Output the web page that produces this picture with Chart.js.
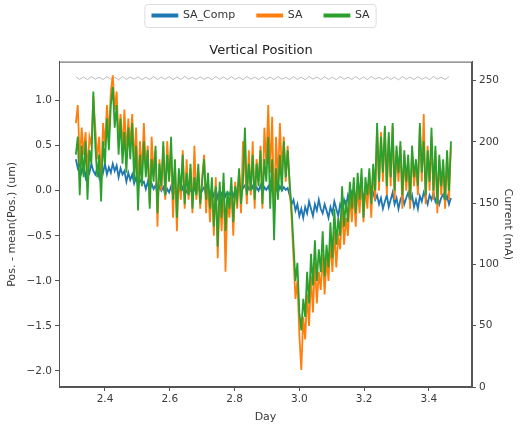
<!DOCTYPE html>
<html lang="en">
  <head>
    <meta charset="UTF-8" />
    <title>Vertical Position</title>
    <script src="https://cdn.jsdelivr.net/npm/chart.js"></script>
    <style>
      html, body { margin: 0; padding: 0; background: #fff; }
      #wrap { width: 522px; height: 424px; }
    </style>
  </head>
  <body>
    <div id="wrap"><canvas id="posChart" width="522" height="424"></canvas></div>
    <script>
      // sample times (Day), one reading every 0.006 day
      const days = Array.from({ length: 194 }, (_, i) => +(2.31 + i * 0.006).toFixed(3));
      const currentDays = Array.from({ length: 97 }, (_, i) => +(2.31 + i * 0.012).toFixed(3));

      const saComp = [
        0.35, 0.25, 0.3, 0.2, 0.28, 0.15, 0.25, 0.2, 0.3, 0.22,
        0.18, 0.25, 0.15, 0.28, 0.2, 0.3, 0.18, 0.26, 0.2, 0.3,
        0.22, 0.28, 0.15, 0.25, 0.18, 0.22, 0.1, 0.2, 0.12, 0.18,
        0.08, 0.15, 0.05, 0.12, 0.08, 0.1, 0.02, 0.1, 0.0, 0.08,
        0.02, 0.06, -0.04, 0.05, 0.0, 0.04, -0.05, 0.02, -0.02, 0.05,
        -0.05, 0.02, -0.06, 0.03, -0.02, 0.04, -0.05, 0.0, -0.03, 0.02,
        -0.04, 0.03, -0.02, 0.05, -0.03, 0.0, 0.04, -0.05, 0.02, -0.04,
        0.0, -0.06, 0.02, -0.08, 0.0, -0.05, 0.03, -0.06, -0.02, -0.04,
        0.0, -0.06, 0.02, -0.03, 0.04, -0.02, 0.03, 0.06, -0.02, 0.04,
        0.0, 0.05, -0.02, 0.04, 0.0, 0.06, -0.03, 0.04, 0.01, 0.05,
        -0.02, 0.04, -0.05, 0.03, -0.02, 0.05, 0.0, 0.04, 0.01, 0.03,
        -0.05, -0.15, -0.1, -0.22, -0.15, -0.28,
        -0.2, -0.3, -0.18, -0.25,
        -0.12, -0.2, -0.28, -0.15, -0.22, -0.1, -0.2, -0.25, -0.15, -0.22,
        -0.3, -0.18, -0.25, -0.12, -0.2, -0.28, -0.15, -0.2, -0.1, -0.18,
        -0.05, -0.12, -0.02, -0.1, -0.05, 0.0, -0.08, -0.02, -0.06, 0.0,
        -0.04, 0.02, -0.06, -0.02, -0.1, -0.05, -0.15, -0.08, -0.2, -0.12,
        -0.05, -0.18, -0.1, -0.02, -0.15, -0.08, -0.2, -0.1, -0.05, -0.15,
        -0.08, -0.02, -0.12, -0.05, -0.18, -0.1, -0.2, -0.06, -0.12, -0.02,
        -0.08, -0.15, -0.05, -0.1, -0.02, -0.12, -0.06, -0.15, -0.08, -0.04,
        -0.12, -0.06, -0.15, -0.08
      ];

      const saOrange = [
        0.75, 0.95, 0.3, 0.7, 0.4, 0.65, 0.2, 0.6, 0.5, 1.05,
        0.7, 0.35, 0.6, 0.1, 0.75, 0.5, 0.95, 0.6, 1.1, 1.28,
        0.9, 1.1, 0.55, 0.85, 0.45, 0.9, 0.4, 0.8, 0.5, 0.85,
        0.3, 0.7, 0.05, 0.55, 0.2, 0.75, 0.25, 0.5, -0.15, 0.6,
        0.2, 0.45, -0.4, 0.35, 0.0, 0.5, -0.1, 0.55, 0.15, 0.45,
        -0.3, 0.3, -0.45, 0.2, -0.1, 0.45, -0.2, 0.35, -0.1, 0.25,
        -0.25, 0.5, -0.1, 0.2, -0.2, 0.15, 0.4, -0.25, 0.1, -0.35,
        0.05, -0.5, 0.15, -0.75, 0.0, -0.45, 0.1, -0.9, -0.1, -0.3,
        0.05, -0.5, 0.1, -0.2, 0.2, -0.25, 0.55, 0.3, -0.15, 0.45,
        -0.05, 0.55, -0.2, 0.35, 0.1, 0.5, -0.2, 0.7, 0.3, 0.95,
        0.2, 0.82, -0.3, 0.6, 0.1, 0.75, 0.2, 0.6, 0.1, 0.5,
        0.05, -0.3, -0.75, -1.2, -1.0, -1.6,
        -1.99, -1.4, -1.65, -1.15,
        -1.5, -0.95, -1.35, -0.8, -1.25, -0.9, -1.1, -0.7, -1.15, -0.75,
        -1.0, -0.55, -0.9, -0.45, -0.85, -0.5, -0.65, -0.2, -0.6, -0.3,
        -0.5, -0.05, -0.35, 0.0, -0.4, 0.05, -0.25, 0.15, -0.35, 0.05,
        -0.2, 0.2, -0.3, 0.25, -0.1, 0.7, 0.0, 0.65, 0.1, 0.7,
        -0.05, 0.6, 0.05, 0.72, -0.1, 0.45, 0.1, 0.5, -0.2, 0.4,
        0.0, 0.35, -0.2, 0.45, 0.05, 0.3, -0.05, 0.7, 0.1, 0.85,
        -0.15, 0.5, 0.0, 0.6, -0.1, 0.45, -0.25, 0.35, -0.05, 0.3,
        -0.2, 0.4, -0.1, 0.5
      ];

      const saGreen = [
        0.4, 0.6, -0.05, 0.5, 0.15, 0.55, -0.1, 0.45, 0.3, 1.1,
        0.5, 0.15, 0.4, -0.12, 0.55, 0.3, 0.8, 0.45, 0.95, 1.15,
        0.7, 0.95, 0.4, 0.8, 0.3, 0.65, 0.2, 0.7, 0.35, 0.75,
        0.1, 0.5, -0.22, 0.4, 0.05, 0.55, 0.15, 0.45, -0.2, 0.35,
        0.1, 0.5, -0.25, 0.3, 0.05, 0.55, -0.05, 0.4, 0.1, 0.6,
        -0.1, 0.35, -0.3, 0.25, 0.0, 0.4, -0.15, 0.2, -0.05, 0.3,
        -0.2, 0.15, -0.05, 0.3, -0.15, 0.1, 0.35, -0.1, 0.2, -0.2,
        0.15, -0.4, 0.05, -0.62, 0.1, -0.3, 0.2, -0.45, 0.0, -0.2,
        0.15, -0.35, 0.05, -0.1, 0.25, -0.15, 0.1, 0.7, -0.05, 0.3,
        0.0, 0.4, -0.1, 0.3, 0.05, 0.45, -0.15, 0.35, 0.1, 0.6,
        -0.2, 0.35, -0.55, 0.25, -0.1, 0.4, 0.0, 0.55, 0.15, 0.45,
        0.1, -0.2, -0.6, -1.0, -0.8, -1.35,
        -1.55, -1.2, -1.4, -0.9,
        -1.25, -0.7, -1.05, -0.55, -1.0, -0.65, -0.9, -0.45, -0.95, -0.6,
        -0.85, -0.35, -0.75, -0.2, -0.6, -0.3, -0.5, 0.05, -0.4, -0.1,
        -0.35, 0.1, -0.2, 0.15, -0.25, 0.2, -0.1, 0.25, -0.3, 0.15,
        -0.05, 0.25, -0.15, 0.3, 0.0, 0.75, 0.1, 0.6, 0.2, 0.72,
        0.05, 0.65, 0.15, 0.75, 0.0, 0.5, 0.2, 0.55, -0.05, 0.45,
        0.1, 0.4, -0.1, 0.5, 0.15, 0.35, 0.05, 0.75, 0.2, 0.55,
        -0.05, 0.45, 0.1, 0.7, 0.0, 0.5, -0.15, 0.4, 0.05, 0.35,
        -0.1, 0.45, 0.0, 0.55
      ];

      // beam current (mA), top-up sawtooth
      const current = [
        253.1, 251.0, 252.9, 250.8, 253.3, 251.2, 252.7, 250.9, 253.2, 251.1,
        252.8, 250.7, 253.4, 251.0, 252.9, 251.2, 253.1, 250.8, 252.7, 251.0,
        253.3, 250.9, 252.8, 251.1, 253.2, 250.8, 252.9, 251.0, 253.4, 251.2,
        252.7, 250.9, 253.1, 251.0, 252.8, 250.7, 253.3, 251.1, 252.9, 250.9,
        253.2, 251.0, 252.7, 250.8, 253.4, 251.2, 252.8, 250.9, 253.1, 251.0,
        252.9, 250.8, 253.3, 251.1, 252.7, 250.9, 253.2, 251.0, 252.8, 250.7,
        253.4, 251.2, 252.9, 250.9, 253.1, 251.0, 252.7, 250.8, 253.3, 251.1,
        252.8, 250.9, 253.2, 251.0, 252.9, 250.8, 253.4, 251.2, 252.7, 250.9,
        253.1, 251.0, 252.8, 250.7, 253.3, 251.1, 252.9, 250.9, 253.2, 251.0,
        252.7, 250.8, 253.4, 251.2, 252.8, 250.9, 253.1
      ];

      const xy = (xs, ys) => xs.map((x, i) => ({ x: x, y: ys[i] }));
      const minus = (s) => s.replace('-', '\u2212');

      Chart.defaults.font.family = 'DejaVu Sans';
      Chart.defaults.font.size = 10.5;
      Chart.defaults.color = '#3a3a3a';

      // matplotlib-style box around the plot area
      const frame = {
        id: 'frame',
        afterDatasetsDraw(chart) {
          const a = chart.chartArea, c = chart.ctx;
          c.save();
          c.strokeStyle = '#555';
          c.lineWidth = 1;
          c.strokeRect(a.left + 0.5, a.top + 0.5, a.right - a.left - 1, a.bottom - a.top - 1);
          c.restore();
        }
      };

      // frame around the legend
      const legendBox = {
        id: 'legendBox',
        afterDraw(chart) {
          const boxes = chart.legend.legendHitBoxes;
          if (!boxes || !boxes.length) return;
          const l = Math.min(...boxes.map(b => b.left)) - 8;
          const r = Math.max(...boxes.map(b => b.left + b.width)) + 6;
          const t = Math.min(...boxes.map(b => b.top)) - 6;
          const btm = Math.max(...boxes.map(b => b.top + b.height)) + 6;
          const c = chart.ctx;
          c.save();
          c.strokeStyle = '#ddd';
          c.lineWidth = 1;
          c.beginPath();
          c.roundRect(l + 0.5, t + 0.5, r - l, btm - t, 3);
          c.stroke();
          c.restore();
        }
      };

      const line = (label, data, color, order, axis, width) => ({
        label: label,
        data: data,
        borderColor: color,
        backgroundColor: color,
        borderWidth: width,
        pointRadius: 0,
        tension: 0,
        fill: false,
        order: order,
        yAxisID: axis
      });

      new Chart(document.getElementById('posChart'), {
        type: 'line',
        data: {
          datasets: [
            line('SA_Comp', xy(days, saComp), '#1f77b4', 3, 'y', 1.8),
            line('SA', xy(days, saOrange), '#ff7f0e', 2, 'y', 1.8),
            line('SA', xy(days, saGreen), '#2ca02c', 1, 'y', 1.8),
            line('Current', xy(currentDays, current), 'rgba(150,150,150,0.8)', 4, 'y1', 0.8)
          ]
        },
        plugins: [frame, legendBox],
        options: {
          responsive: false,
          animation: false,
          layout: { padding: { top: -12, left: 0, right: 0, bottom: 0 } },
          plugins: {
            legend: {
              position: 'top',
              labels: {
                boxWidth: 25,
                boxHeight: 2,
                padding: 22,
                color: '#333',
                font: { size: 11 },
                filter: (item) => item.datasetIndex < 3,
                sort: (a, b) => a.datasetIndex - b.datasetIndex
              }
            },
            title: {
              display: true,
              weight: 500,
              text: 'Vertical Position',
              color: '#222',
              font: { size: 13, weight: 'normal' },
              padding: { top: 12, bottom: 3 }
            },
            tooltip: { enabled: false }
          },
          scales: {
            x: {
              type: 'linear',
              min: 2.258,
              max: 3.533,
              afterFit: (s) => { s.height = 37; },
              ticks: { stepSize: 0.2, includeBounds: false, padding: 2, callback: (v) => v.toFixed(1) },
              grid: { drawOnChartArea: false, tickLength: 4, color: '#555' },
              border: { color: '#555' },
              title: { display: true, text: 'Day', padding: { top: 3, bottom: 0 }, font: { size: 11 } }
            },
            y: {
              position: 'left',
              min: -2.178,
              max: 1.433,
              afterFit: (s) => { s.width = 59; },
              ticks: { stepSize: 0.5, includeBounds: false, padding: 3, callback: (v) => minus(v.toFixed(1)) },
              grid: { drawOnChartArea: false, tickLength: 4, color: '#555' },
              border: { color: '#555' },
              title: { display: true, text: 'Pos. - mean(Pos.) (um)', padding: { top: 6, bottom: 0 }, font: { size: 11 } }
            },
            y1: {
              position: 'right',
              min: 0,
              max: 265.5,
              afterFit: (s) => { s.width = 50; },
              ticks: { stepSize: 50, includeBounds: false, padding: 3 },
              grid: { drawOnChartArea: false, tickLength: 4, color: '#555' },
              border: { color: '#555' },
              title: { display: true, text: 'Current (mA)', padding: { top: 8, bottom: 0 }, font: { size: 11 } }
            }
          }
        }
      });
    </script>
  </body>
</html>
